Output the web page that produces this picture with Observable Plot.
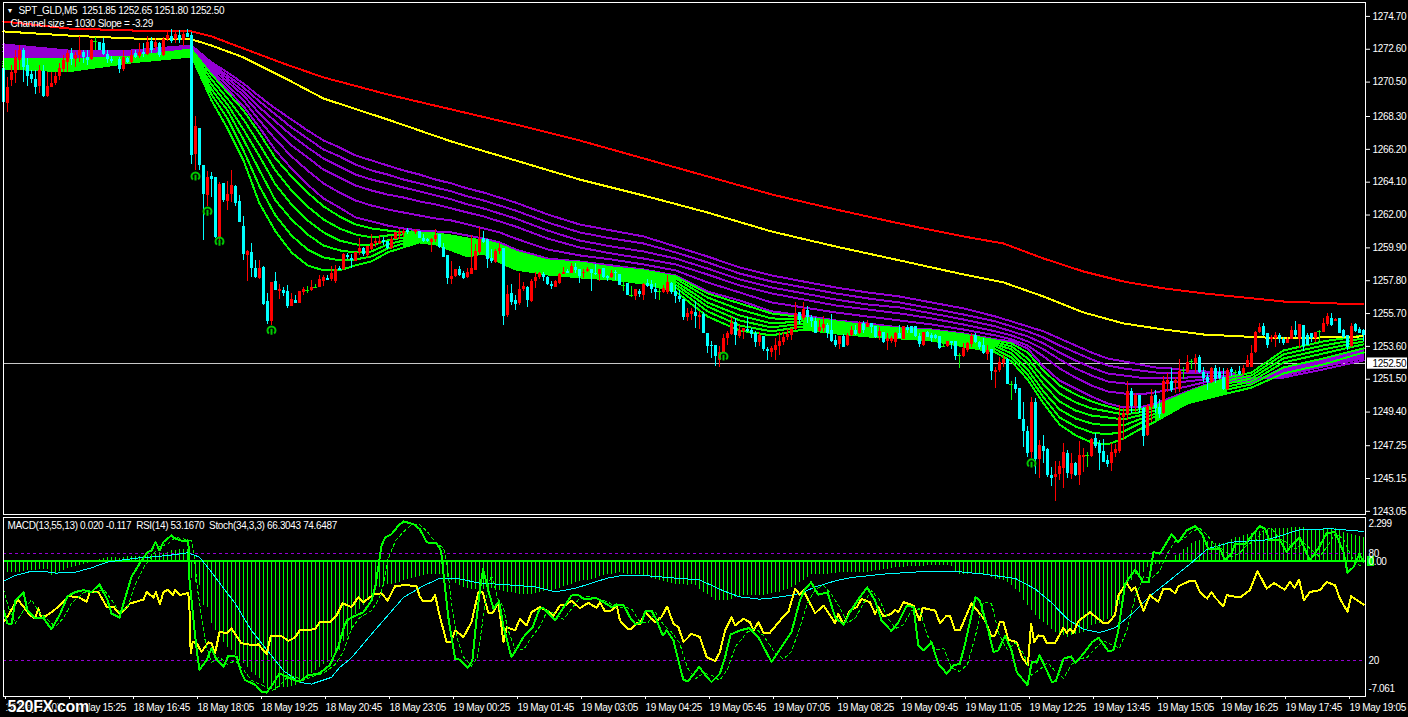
<!DOCTYPE html>
<html>
<head>
<meta charset="utf-8">
<script src="https://cdn.jsdelivr.net/npm/d3@7"></script>
<script src="https://cdn.jsdelivr.net/npm/@observablehq/plot@0.6"></script>
<style>
html,body{margin:0;padding:0;background:#000;width:1408px;height:717px;overflow:hidden}
svg{display:block}
svg text{white-space:pre;letter-spacing:-0.35px}
</style>
</head>
<body>
<div id="chart"></div>
<script>
// open, high, low, close for bars 0..340
const ohlc = [
[1271.35,1271.35,1268.58,1269.22],[1269.16,1270.82,1268.58,1270.14],[1270.61,1271.56,1270.22,1271.14],[1271.03,1272.52,1270.39,1272.05],[1271.88,1272.84,1271.24,1272.52],
[1272.52,1272.63,1270.50,1271.46],[1271.56,1271.99,1270.22,1270.86],[1270.99,1271.24,1270.39,1270.65],[1270.65,1271.24,1269.71,1270.14],[1270.22,1271.56,1269.75,1271.24],
[1271.18,1271.56,1269.54,1269.58],[1269.58,1271.14,1269.50,1270.22],[1270.14,1271.14,1270.14,1270.44],[1270.39,1271.14,1270.29,1270.86],[1270.86,1271.67,1270.61,1271.37],
[1271.33,1272.20,1271.14,1271.88],[1271.76,1272.52,1271.14,1272.31],[1272.31,1272.63,1271.56,1271.93],[1271.93,1272.42,1271.46,1272.20],[1272.20,1273.42,1271.78,1272.52],
[1272.42,1272.52,1271.67,1272.10],[1272.10,1272.52,1271.56,1271.88],[1271.93,1273.21,1271.88,1273.16],[1273.12,1273.38,1272.52,1273.12],[1273.01,1273.06,1272.52,1272.52],
[1272.99,1273.27,1272.20,1272.27],[1272.27,1272.52,1271.67,1271.93],[1271.93,1272.14,1271.67,1271.84],[1271.88,1272.10,1271.50,1271.88],[1271.93,1272.10,1271.07,1271.33],
[1271.29,1272.52,1271.20,1272.05],[1271.99,1272.10,1271.67,1271.76],[1271.76,1272.52,1271.71,1272.20],[1272.31,1272.52,1271.99,1272.10],[1272.14,1272.95,1271.99,1272.42],
[1272.42,1272.95,1272.10,1272.27],[1272.27,1273.42,1272.20,1273.06],[1273.12,1273.38,1272.35,1272.52],[1272.69,1273.27,1272.52,1273.06],[1272.95,1273.06,1272.10,1272.20],
[1272.20,1273.33,1272.14,1273.21],[1273.21,1273.80,1273.12,1273.48],[1273.44,1273.84,1272.95,1273.12],[1273.21,1273.80,1272.95,1273.55],[1273.48,1273.80,1272.95,1273.16],
[1273.16,1273.76,1272.78,1273.55],[1273.63,1273.84,1273.33,1273.38],[1273.48,1273.70,1265.23,1265.81],[1265.87,1268.30,1264.85,1267.66],[1267.53,1267.53,1264.85,1265.17],
[1265.17,1265.17,1260.38,1263.32],[1263.25,1264.81,1262.55,1264.43],[1264.47,1264.72,1263.15,1264.26],[1264.43,1264.43,1260.48,1260.59],[1260.48,1264.11,1260.38,1263.96],
[1264.04,1264.04,1262.83,1262.94],[1262.85,1264.15,1262.30,1263.32],[1263.32,1264.85,1262.83,1263.89],[1263.83,1263.89,1262.55,1262.72],[1262.87,1263.25,1261.53,1261.53],
[1261.27,1261.91,1259.10,1259.48],[1259.42,1259.74,1257.76,1259.67],[1259.63,1260.21,1258.03,1258.57],[1258.61,1259.10,1257.93,1257.99],[1257.93,1259.10,1257.86,1258.61],
[1258.67,1258.72,1256.22,1256.29],[1256.44,1256.97,1255.01,1255.20],[1255.20,1257.71,1254.94,1257.71],[1257.76,1258.31,1257.18,1257.18],[1257.10,1257.56,1256.61,1257.25],
[1257.18,1257.35,1256.80,1257.01],[1257.10,1257.50,1256.03,1256.16],[1256.16,1256.97,1256.16,1256.63],[1256.54,1256.86,1256.35,1256.35],[1256.35,1257.10,1256.35,1257.10],
[1257.05,1257.35,1256.84,1257.25],[1257.18,1257.44,1257.01,1257.18],[1257.18,1257.82,1257.10,1257.37],[1257.35,1257.56,1257.31,1257.35],[1257.39,1258.14,1257.35,1257.88],
[1257.78,1258.14,1257.46,1258.01],[1257.95,1258.14,1257.82,1257.82],[1257.88,1258.72,1257.76,1258.23],[1257.76,1258.78,1257.61,1258.52],[1258.61,1258.72,1258.46,1258.46],
[1258.52,1259.53,1258.46,1259.46],[1259.40,1259.53,1259.16,1259.29],[1259.25,1259.48,1258.57,1259.10],[1259.06,1259.61,1259.06,1259.61],[1259.61,1260.53,1259.42,1259.89],
[1259.89,1259.95,1259.35,1259.46],[1259.38,1259.99,1259.31,1259.99],[1259.80,1260.76,1259.74,1260.21],[1260.16,1260.48,1259.95,1260.31],[1260.16,1260.68,1260.10,1260.33],
[1260.38,1260.55,1260.06,1260.23],[1260.31,1260.31,1259.78,1259.84],[1259.84,1260.63,1259.78,1260.46],[1260.44,1260.91,1260.44,1260.91],[1260.76,1261.06,1260.42,1260.91],
[1260.80,1261.06,1260.59,1260.93],[1261.02,1261.12,1260.76,1260.89],[1260.89,1261.02,1260.59,1260.89],[1260.91,1261.10,1260.76,1261.02],[1260.95,1260.95,1260.48,1260.48],
[1260.53,1260.76,1260.27,1260.33],[1260.42,1260.48,1260.27,1260.33],[1260.25,1260.48,1259.61,1260.42],[1260.42,1261.06,1260.27,1260.68],[1260.76,1260.76,1259.84,1259.95],
[1259.95,1260.21,1259.27,1259.27],[1259.42,1259.42,1257.56,1257.95],[1257.86,1259.03,1257.56,1258.07],[1258.07,1258.52,1257.98,1258.52],[1258.52,1258.71,1258.07,1258.11],
[1258.28,1258.41,1257.88,1257.92],[1257.98,1258.56,1257.94,1258.35],[1258.20,1260.69,1258.20,1258.60],[1258.45,1260.12,1258.45,1259.69],[1259.63,1261.18,1259.46,1260.44],
[1260.48,1260.95,1260.20,1260.26],[1260.41,1260.41,1258.58,1259.14],[1259.24,1259.77,1258.92,1259.03],[1258.99,1259.77,1258.88,1259.67],[1259.65,1260.16,1259.48,1259.88],
[1259.84,1259.84,1254.94,1255.51],[1255.58,1257.49,1255.47,1256.92],[1256.96,1257.54,1256.22,1256.39],[1256.54,1256.86,1255.90,1256.28],[1256.32,1258.24,1256.22,1257.24],
[1257.22,1257.66,1257.13,1257.45],[1257.39,1257.45,1256.07,1256.54],[1256.47,1257.90,1256.43,1257.75],[1257.73,1258.35,1257.28,1257.98],[1257.98,1258.35,1257.86,1258.24],
[1258.18,1258.35,1257.77,1258.03],[1258.03,1258.07,1257.49,1257.56],[1257.56,1257.77,1257.26,1257.43],[1257.39,1257.81,1257.35,1257.75],[1257.60,1258.24,1257.56,1258.20],
[1258.20,1258.67,1258.18,1258.35],[1258.41,1258.50,1258.24,1258.24],[1258.28,1258.92,1258.24,1258.73],[1258.67,1258.88,1258.28,1258.45],[1258.50,1258.50,1257.64,1258.07],
[1258.24,1258.50,1257.96,1258.35],[1258.41,1258.67,1258.35,1258.54],[1258.50,1258.50,1257.13,1258.28],[1258.26,1258.84,1258.13,1258.18],[1258.18,1258.50,1257.77,1258.50],
[1258.60,1258.60,1257.94,1257.98],[1258.07,1258.13,1257.75,1257.96],[1257.98,1258.45,1257.92,1258.28],[1258.35,1258.45,1257.81,1258.24],[1258.20,1258.20,1257.49,1257.49],
[1257.49,1257.81,1257.13,1257.49],[1257.60,1257.60,1256.86,1256.86],[1256.88,1257.43,1256.75,1256.88],[1256.81,1257.22,1256.54,1257.22],[1257.13,1257.22,1256.73,1256.92],
[1256.86,1257.64,1256.54,1257.56],[1257.60,1257.86,1257.35,1257.45],[1257.56,1257.81,1257.00,1257.26],[1257.24,1257.60,1256.62,1257.05],[1257.09,1257.32,1256.54,1257.09],
[1257.07,1257.49,1256.96,1257.28],[1257.03,1258.13,1256.92,1257.69],[1257.60,1257.71,1256.92,1257.03],[1257.11,1257.49,1256.32,1256.79],[1256.79,1257.17,1256.43,1256.60],
[1256.60,1256.60,1255.26,1255.47],[1255.43,1256.05,1255.19,1255.68],[1255.64,1256.00,1255.26,1255.81],[1255.77,1256.47,1254.72,1255.51],[1255.47,1255.85,1254.66,1255.58],
[1255.65,1255.79,1254.45,1254.45],[1254.45,1254.45,1253.13,1253.60],[1253.66,1253.94,1252.81,1253.60],[1253.66,1253.66,1252.32,1252.96],[1252.71,1253.60,1252.28,1253.24],
[1253.19,1254.37,1253.13,1254.13],[1254.09,1254.58,1253.66,1254.45],[1254.37,1255.43,1254.30,1255.05],[1255.11,1255.37,1253.66,1254.30],[1254.24,1254.94,1254.09,1254.62],
[1254.58,1254.77,1254.03,1254.77],[1254.69,1255.43,1254.52,1254.56],[1254.62,1254.73,1254.09,1254.37],[1254.41,1254.58,1253.51,1253.83],[1253.83,1254.52,1253.60,1254.30],
[1254.26,1254.26,1253.28,1253.39],[1253.41,1253.51,1252.71,1253.28],[1253.22,1253.60,1252.92,1253.49],[1253.34,1254.13,1252.71,1253.66],[1253.60,1254.52,1253.02,1253.92],
[1253.88,1254.52,1253.66,1254.20],[1254.15,1254.67,1253.98,1254.35],[1254.30,1254.73,1253.98,1254.67],[1254.67,1256.39,1254.62,1255.73],[1255.75,1255.75,1254.98,1255.26],
[1255.41,1256.43,1255.26,1255.97],[1255.90,1256.16,1255.09,1255.43],[1255.47,1255.58,1254.79,1255.16],[1255.16,1255.43,1254.45,1254.45],[1254.58,1255.26,1254.52,1254.79],
[1254.73,1255.52,1254.52,1255.01],[1254.94,1255.05,1254.09,1254.41],[1254.62,1255.65,1253.88,1253.94],[1253.98,1254.30,1253.56,1253.66],[1253.73,1254.24,1253.39,1254.24],
[1254.26,1254.37,1253.56,1253.56],[1253.66,1254.41,1253.60,1254.30],[1254.30,1254.88,1254.24,1254.62],[1254.62,1254.94,1254.30,1254.37],[1254.45,1255.22,1254.37,1255.09],
[1255.09,1255.16,1254.41,1254.62],[1254.79,1255.26,1254.79,1255.09],[1255.05,1255.05,1254.41,1254.79],[1254.84,1254.88,1254.13,1254.20],[1254.24,1254.79,1253.98,1254.58],
[1254.52,1254.52,1253.77,1253.88],[1253.90,1254.45,1253.34,1254.13],[1253.90,1254.24,1253.81,1254.13],[1253.88,1254.52,1253.51,1254.41],[1254.41,1254.94,1254.13,1254.13],
[1254.05,1254.88,1254.03,1254.84],[1254.79,1254.94,1254.41,1254.62],[1254.84,1254.88,1254.41,1254.41],[1254.84,1254.84,1254.20,1254.24],[1254.26,1254.41,1253.51,1253.73],
[1253.66,1254.52,1253.62,1254.47],[1254.47,1254.58,1254.15,1254.20],[1254.30,1254.41,1253.88,1254.13],[1254.30,1254.37,1254.03,1254.09],[1254.24,1254.24,1253.39,1253.45],
[1253.58,1253.88,1253.54,1253.58],[1253.60,1253.94,1253.51,1253.92],[1253.92,1253.92,1253.43,1253.77],[1253.92,1253.92,1252.71,1252.98],[1253.02,1253.17,1252.19,1253.02],
[1252.98,1253.77,1252.92,1253.47],[1253.34,1253.88,1253.24,1253.77],[1253.71,1254.41,1253.56,1254.24],[1254.30,1254.41,1253.77,1253.83],[1253.88,1253.94,1253.39,1253.56],
[1253.66,1254.09,1253.09,1253.13],[1253.09,1253.66,1252.71,1253.34],[1253.40,1253.40,1251.42,1251.98],[1251.96,1252.23,1250.93,1252.06],[1252.06,1252.87,1251.96,1252.55],
[1252.49,1253.02,1252.23,1252.77],[1252.77,1252.81,1251.17,1251.17],[1251.15,1251.38,1250.14,1251.15],[1251.15,1251.59,1250.61,1250.83],[1250.89,1250.89,1248.93,1248.93],
[1248.93,1250.04,1247.16,1248.16],[1248.16,1248.48,1246.52,1246.73],[1246.84,1250.36,1246.41,1250.02],[1250.02,1250.25,1245.41,1246.35],[1246.35,1247.59,1245.14,1247.27],
[1247.20,1247.91,1246.09,1246.88],[1247.01,1247.05,1245.24,1245.35],[1245.35,1245.88,1244.65,1245.18],[1245.22,1246.27,1243.69,1245.41],[1245.41,1246.27,1245.03,1245.93],
[1245.78,1247.42,1244.54,1246.84],[1246.78,1246.95,1245.14,1245.46],[1245.41,1246.73,1245.07,1246.09],[1246.14,1246.20,1245.29,1245.35],[1245.35,1247.52,1244.71,1246.63],
[1246.52,1247.05,1245.56,1246.63],[1246.63,1246.84,1245.88,1246.63],[1246.56,1247.74,1246.52,1247.63],[1247.74,1248.01,1247.05,1247.20],[1247.42,1247.59,1245.67,1246.73],
[1246.88,1247.63,1246.16,1246.20],[1246.31,1246.63,1245.84,1246.05],[1246.10,1247.37,1245.63,1246.82],[1246.73,1247.33,1246.48,1247.01],[1246.88,1249.82,1246.78,1249.04],
[1249.04,1249.61,1247.59,1249.29],[1249.25,1251.38,1248.87,1250.72],[1250.72,1250.89,1249.29,1249.78],[1249.78,1250.57,1249.40,1250.46],[1250.46,1250.46,1249.29,1249.61],
[1249.61,1249.72,1247.20,1247.84],[1247.91,1249.89,1247.84,1249.76],[1249.72,1250.83,1248.76,1250.42],[1250.46,1250.78,1249.29,1249.61],[1249.72,1250.19,1248.97,1249.25],
[1249.33,1251.68,1249.25,1251.36],[1251.17,1251.85,1250.68,1251.42],[1251.36,1252.17,1250.68,1250.78],[1251.25,1251.59,1250.61,1251.42],[1250.83,1252.74,1250.68,1252.00],
[1252.06,1252.23,1251.47,1252.06],[1251.96,1253.02,1251.85,1252.55],[1252.66,1252.74,1252.10,1252.66],[1252.49,1253.08,1251.85,1252.85],[1252.92,1253.02,1251.85,1251.90],
[1251.90,1252.24,1251.32,1251.53],[1251.60,1251.85,1250.79,1251.28],[1251.26,1252.28,1251.21,1252.17],[1252.17,1252.39,1251.21,1251.47],[1251.96,1252.28,1251.47,1251.53],
[1251.60,1252.17,1250.79,1250.83],[1250.83,1252.17,1250.79,1252.07],[1252.11,1252.28,1251.68,1251.90],[1251.96,1252.07,1251.38,1251.96],[1252.00,1252.32,1251.75,1251.81],
[1251.85,1252.39,1251.75,1252.17],[1252.24,1253.02,1252.24,1252.71],[1252.28,1253.66,1252.24,1253.13],[1253.19,1254.56,1253.13,1254.52],[1254.52,1255.09,1254.41,1254.79],
[1254.90,1255.05,1254.24,1254.30],[1254.41,1254.45,1253.45,1253.66],[1254.05,1254.30,1253.88,1254.20],[1254.09,1254.52,1253.56,1254.30],[1254.30,1254.41,1253.77,1254.03],
[1254.05,1254.20,1253.66,1253.77],[1253.81,1254.20,1253.77,1254.03],[1254.03,1254.84,1254.03,1254.62],[1254.62,1255.22,1254.20,1254.30],[1254.07,1255.01,1253.45,1255.01],
[1254.94,1254.94,1253.28,1253.60],[1254.30,1254.41,1253.66,1253.66],[1254.41,1254.41,1253.88,1254.09],[1254.13,1254.52,1253.88,1254.47],[1254.56,1254.62,1253.94,1254.56],
[1254.52,1255.37,1254.52,1255.05],[1254.99,1255.69,1254.88,1255.48],[1255.37,1255.69,1254.84,1254.94],[1255.20,1255.37,1255.16,1255.33],[1255.37,1255.37,1254.41,1254.41],
[1254.62,1254.67,1254.09,1254.20],[1254.30,1254.30,1253.34,1253.56],[1253.60,1255.09,1253.56,1254.88],[1254.99,1255.05,1254.52,1254.56],[1254.67,1254.79,1254.41,1254.45],
[1254.62,1254.67,1253.94,1254.30]
];

// slow averages read at these bars
const trendBars = [0,16,32,47,52,60,70,80,96,112,128,144,160,176,192,208,224,240,250,260,270,280,290,300,320,340];
const redAverage = [1274.38,1273.93,1273.80,1273.74,1273.42,1272.65,1271.69,1270.80,1269.71,1268.75,1267.79,1266.77,1265.62,1264.47,1263.32,1262.36,1261.46,1260.63,1260.18,1259.22,1258.39,1257.75,1257.31,1256.99,1256.47,1256.28];
const yellowAverage = [1273.74,1273.48,1273.29,1273.23,1272.84,1272.08,1270.80,1269.45,1268.11,1266.70,1265.49,1264.27,1263.25,1262.16,1260.95,1259.99,1259.10,1258.20,1257.69,1256.79,1255.77,1255.07,1254.68,1254.36,1254.11,1254.24];

// ribbon: bar, six purple averages, six green averages
const ribbonRows = [
[0,1272.91,1272.71,1272.59,1272.46,1272.27,1272.08,1271.95,1271.82,1271.69,1271.56,1271.50,1271.37],
[16,1272.52,1272.46,1272.40,1272.27,1272.20,1272.08,1271.95,1271.76,1271.63,1271.44,1271.31,1271.18],
[32,1272.52,1272.46,1272.40,1272.33,1272.27,1272.20,1272.14,1272.08,1272.01,1271.95,1271.88,1271.76],
[47,1272.84,1272.78,1272.71,1272.71,1272.65,1272.65,1272.59,1272.52,1272.40,1272.33,1272.27,1272.14],
[52,1271.76,1271.63,1271.50,1271.37,1271.24,1271.12,1270.99,1270.67,1270.35,1270.03,1269.71,1269.33],
[56,1271.12,1270.92,1270.73,1270.54,1270.28,1270.03,1269.84,1269.45,1269.07,1268.69,1268.18,1267.54],
[60,1270.41,1270.16,1269.90,1269.65,1269.33,1268.94,1268.69,1268.11,1267.47,1266.83,1266.13,1265.49],
[64,1269.58,1269.26,1268.88,1268.49,1268.05,1267.60,1267.22,1266.51,1265.75,1264.85,1263.83,1262.74],
[68,1268.81,1268.43,1267.98,1267.47,1266.83,1266.13,1265.62,1264.85,1263.95,1262.93,1261.97,1260.95],
[72,1268.11,1267.60,1267.09,1266.45,1265.75,1264.98,1264.47,1263.57,1262.68,1261.72,1260.69,1259.61],
[76,1267.41,1266.90,1266.32,1265.68,1264.85,1263.95,1263.44,1262.55,1261.65,1260.76,1259.80,1258.78],
[80,1266.77,1266.19,1265.62,1264.91,1264.02,1263.06,1262.55,1261.72,1260.89,1260.05,1259.29,1258.46],
[84,1266.32,1265.75,1265.11,1264.40,1263.44,1262.48,1261.91,1261.14,1260.37,1259.74,1259.10,1258.46],
[88,1265.81,1265.23,1264.59,1263.89,1262.93,1261.85,1261.40,1260.76,1260.12,1259.61,1259.16,1258.78],
[92,1265.49,1264.85,1264.27,1263.57,1262.61,1261.59,1261.14,1260.57,1260.05,1259.67,1259.35,1259.03],
[96,1265.17,1264.59,1264.02,1263.31,1262.36,1261.33,1261.01,1260.69,1260.37,1260.12,1259.86,1259.61],
[100,1264.85,1264.27,1263.76,1263.12,1262.16,1261.14,1260.89,1260.76,1260.57,1260.37,1260.18,1259.93],
[104,1264.59,1264.02,1263.51,1262.87,1261.97,1261.01,1260.89,1260.76,1260.63,1260.50,1260.37,1260.25],
[108,1264.27,1263.76,1263.25,1262.68,1261.78,1260.95,1260.82,1260.69,1260.57,1260.44,1260.31,1260.12],
[112,1264.02,1263.51,1263.00,1262.42,1261.65,1260.89,1260.69,1260.50,1260.31,1260.12,1259.93,1259.74],
[116,1263.70,1263.19,1262.68,1262.16,1261.40,1260.69,1260.50,1260.31,1260.05,1259.86,1259.61,1259.35],
[120,1263.44,1262.93,1262.42,1261.91,1261.14,1260.50,1260.37,1260.18,1259.99,1259.80,1259.67,1259.54],
[124,1263.12,1262.61,1262.10,1261.59,1260.89,1260.25,1260.12,1259.93,1259.74,1259.48,1259.22,1258.97],
[128,1262.80,1262.29,1261.78,1261.27,1260.50,1259.80,1259.67,1259.48,1259.29,1259.03,1258.78,1258.52],
[136,1262.04,1261.53,1261.01,1260.50,1259.80,1259.22,1259.10,1258.97,1258.78,1258.58,1258.39,1258.20],
[144,1261.40,1260.89,1260.37,1259.93,1259.42,1259.03,1258.97,1258.78,1258.58,1258.39,1258.20,1258.01],
[152,1261.01,1260.50,1259.99,1259.54,1259.16,1258.78,1258.65,1258.52,1258.39,1258.26,1258.07,1257.88],
[160,1260.63,1260.18,1259.67,1259.22,1258.84,1258.52,1258.46,1258.33,1258.20,1258.01,1257.82,1257.62],
[168,1259.99,1259.61,1259.22,1258.84,1258.46,1258.14,1258.07,1257.94,1257.75,1257.56,1257.37,1257.11],
[176,1259.35,1258.97,1258.58,1258.20,1257.69,1257.11,1256.99,1256.73,1256.41,1256.15,1255.84,1255.51],
[184,1258.65,1258.26,1257.88,1257.50,1257.05,1256.54,1256.35,1255.96,1255.58,1255.26,1254.94,1254.62],
[192,1258.14,1257.75,1257.37,1256.99,1256.41,1255.84,1255.71,1255.39,1255.07,1254.81,1254.56,1254.30],
[200,1257.75,1257.37,1256.99,1256.60,1256.09,1255.58,1255.45,1255.32,1255.20,1255.07,1254.88,1254.68],
[208,1257.37,1256.99,1256.60,1256.22,1255.77,1255.26,1255.20,1255.07,1254.94,1254.81,1254.62,1254.43],
[216,1257.05,1256.67,1256.28,1255.96,1255.51,1255.07,1254.94,1254.81,1254.68,1254.56,1254.43,1254.24],
[224,1256.79,1256.41,1256.09,1255.71,1255.26,1254.81,1254.75,1254.62,1254.49,1254.36,1254.24,1254.11],
[232,1256.41,1256.03,1255.71,1255.39,1255.00,1254.68,1254.62,1254.49,1254.36,1254.24,1254.11,1253.98],
[240,1256.03,1255.64,1255.32,1255.00,1254.68,1254.43,1254.36,1254.24,1254.11,1253.98,1253.79,1253.60],
[248,1255.51,1255.20,1254.88,1254.56,1254.30,1254.05,1253.98,1253.85,1253.73,1253.60,1253.41,1253.21],
[252,1255.20,1254.88,1254.56,1254.30,1254.05,1253.92,1253.79,1253.60,1253.41,1253.15,1252.89,1252.64],
[256,1254.88,1254.56,1254.24,1253.92,1253.66,1253.47,1253.21,1252.83,1252.51,1252.13,1251.81,1251.49],
[260,1254.56,1254.17,1253.79,1253.41,1252.96,1252.32,1252.06,1251.61,1251.17,1250.72,1250.34,1249.95],
[264,1254.11,1253.66,1253.21,1252.77,1252.19,1251.42,1251.10,1250.59,1250.08,1249.57,1249.06,1248.61],
[268,1253.66,1253.21,1252.70,1252.19,1251.61,1250.91,1250.53,1250.02,1249.50,1248.99,1248.48,1247.91],
[272,1253.21,1252.77,1252.25,1251.74,1251.10,1250.40,1250.08,1249.63,1249.18,1248.67,1248.10,1247.46],
[276,1252.83,1252.38,1251.87,1251.36,1250.72,1249.95,1249.76,1249.44,1249.06,1248.55,1247.97,1247.33],
[280,1252.64,1252.19,1251.74,1251.23,1250.59,1249.70,1249.50,1249.25,1248.93,1248.55,1248.16,1247.71],
[284,1252.45,1252.06,1251.61,1251.17,1250.53,1249.70,1249.57,1249.38,1249.18,1248.93,1248.67,1248.29],
[288,1252.25,1251.93,1251.55,1251.17,1250.66,1249.95,1249.82,1249.70,1249.50,1249.31,1249.12,1248.80],
[292,1252.19,1251.93,1251.61,1251.29,1250.85,1250.34,1250.21,1250.08,1249.95,1249.76,1249.57,1249.38],
[296,1252.06,1251.87,1251.61,1251.36,1251.04,1250.72,1250.66,1250.53,1250.40,1250.27,1250.14,1249.95],
[300,1252.00,1251.87,1251.68,1251.49,1251.29,1251.10,1251.04,1250.91,1250.78,1250.66,1250.46,1250.21],
[306,1251.93,1251.87,1251.74,1251.61,1251.49,1251.36,1251.61,1251.42,1251.23,1251.04,1250.85,1250.59],
[312,1251.55,1251.49,1251.42,1251.36,1251.29,1251.23,1251.93,1251.74,1251.55,1251.36,1251.17,1250.97],
[320,1251.61,1251.74,1251.87,1252.00,1252.13,1252.25,1253.34,1253.09,1252.83,1252.57,1252.25,1251.87],
[330,1252.13,1252.32,1252.45,1252.57,1252.70,1252.83,1253.92,1253.66,1253.41,1253.15,1252.83,1252.45],
[340,1252.70,1252.83,1252.96,1253.09,1253.21,1253.34,1254.30,1254.11,1253.92,1253.73,1253.47,1253.21]
];
// stretches of bars where the ribbon lines run together into a solid band
const solidPurple = [[0,47]];
const solidGreen = [[0,47],[100,168],[200,248],[288,306]];
const arrowBars = [48,51,54,67,180,257];
const arrowPrices = [1264.47,1262.23,1260.31,1254.62,1252.96,1246.12];
const lastPrice = 1252.50;
const priceTicks = [1274.70,1272.60,1270.50,1268.30,1266.20,1264.10,1262.00,1259.90,1257.80,1255.70,1253.60,1251.50,1249.40,1247.25,1245.15,1243.05];

// MACD histogram for bars 0..340
const macdHist = [
-0.59,-0.59,-0.59,-0.56,-0.56,-0.51,-0.47,-0.47,-0.47,-0.44,-0.44,-0.44,-0.73,-0.65,-0.55,-0.45,-0.35,-0.30,-0.25,-0.20,-0.15,-0.10,-0.02,
0.05,0.10,0.18,0.20,0.22,0.20,0.18,0.22,0.25,0.27,0.25,0.25,0.22,0.30,0.35,0.40,0.45,0.40,0.45,0.55,0.58,0.62,0.60,0.60,
-0.91,-1.08,-1.26,-2.30,-2.39,-3.26,-3.61,-3.87,-4.22,-4.49,-4.66,-4.92,-5.18,-5.36,-5.53,-5.79,-5.97,-6.14,-6.40,-6.67,-6.67,-6.75,-6.58,-6.58,-6.58,-6.54,-6.49,-6.37,-6.23,-6.14,-5.88,-5.71,-5.53,-5.39,-5.27,-5.01,-4.83,-4.66,
-4.20,-3.90,-3.60,-2.76,-2.50,-2.32,-2.06,-1.80,-1.54,-1.36,-1.27,-1.19,-1.19,-1.15,-1.10,-1.01,-0.92,-0.87,-0.84,-0.80,-0.75,-0.70,-0.66,-0.66,-0.66,-0.75,-0.84,-1.01,-1.15,-1.27,-1.36,-1.41,-1.45,-1.45,-1.45,-1.45,-1.41,-1.40,-1.45,-1.54,-1.57,-1.62,-1.62,-1.68,-1.71,-1.75,-1.75,-1.71,-1.68,-1.62,-1.57,-1.54,-1.50,-1.45,-1.40,-1.33,-1.27,-1.19,-1.12,-1.05,-1.01,-0.98,-0.94,-0.87,-0.80,-0.75,-0.70,-0.66,-0.63,-0.59,-0.63,-0.66,-0.66,-0.66,-0.70,-0.75,-0.80,-0.87,-0.92,-0.98,-1.05,-1.10,-1.15,-1.19,-1.19,-1.22,-1.27,-1.19,-1.27,-1.45,-1.62,-1.71,-1.88,-2.06,-2.06,-2.06,-2.06,-1.97,-1.88,-1.85,-1.80,-1.80,-1.80,-1.80,
-1.80,-1.80,-1.71,-1.68,-1.62,-1.62,-1.54,-1.45,-1.36,-1.27,-1.10,-1.01,-0.84,-0.70,-0.70,-0.70,-0.66,-0.66,-0.63,-0.63,-0.58,-0.58,-0.58,-0.58,-0.58,-0.58,-0.58,-0.58,-0.52,-0.49,-0.45,-0.40,-0.40,-0.35,-0.31,-0.31,-0.31,-0.28,-0.28,-0.26,-0.26,-0.24,-0.23,-0.23,-0.23,-0.23,-0.23,-0.23,-0.28,-0.58,-0.66,-0.70,-0.70,-0.63,-0.63,-0.63,-0.66,-0.70,-0.84,-0.92,-0.92,-1.01,-1.10,-1.27,-1.45,-1.62,-2.06,-2.32,-2.55,-2.84,-3.02,-3.19,-3.37,-3.54,-3.72,-3.84,-3.89,-3.95,-3.89,-3.84,-3.77,-3.72,-3.54,-3.37,-3.31,-3.25,-3.14,-3.02,-2.90,-2.67,-2.23,-1.62,-1.27,-1.01,-0.70,-0.66,-0.58,-0.31,-0.23,-0.17,-0.14,
-0.12,0.02,0.05,0.31,0.40,0.61,0.75,0.92,1.06,1.10,1.10,1.06,1.01,0.96,0.96,0.92,1.01,1.13,1.24,1.27,1.36,1.41,1.45,1.54,1.59,1.62,1.66,1.71,1.71,1.71,1.71,1.71,1.76,1.76,1.80,1.76,1.66,1.62,1.62,1.62,1.66,1.66,1.71,1.71,1.62,1.54,1.45,1.41,1.36,1.31,1.27
];
const macdSignal = [[0,-1.03],[3,-0.73],[7,-0.51],[10,-0.51],[13,-0.61],[18,-0.56],[22,-0.33],[26,-0.03],[33,0.17],[41,0.31],[46,0.45],[49,0.23],[52,-0.56],[58,-2.22],[62,-3.61],[66,-4.66],[70,-5.71],[74,-6.32],[77,-6.41],[82,-6.06],[84,-5.55],[87,-5.04],[92,-3.80],[100,-1.88],[105,-1.27],[109,-0.89],[113,-0.87],[119,-1.13],[126,-1.22],[133,-1.33],[138,-1.59],[143,-1.40],[151,-0.87],[155,-0.72],[161,-0.75],[168,-0.87],[174,-0.96],[180,-1.54],[184,-1.85],[189,-1.97],[191,-1.94],[195,-1.83],[199,-1.68],[203,-1.33],[208,-1.01],[212,-0.84],[220,-0.66],[229,-0.54],[238,-0.52],[245,-0.66],[253,-0.89],[258,-1.45],[262,-2.15],[266,-3.02],[270,-3.54],[274,-3.72],[278,-3.46],[283,-2.58],[287,-1.74],[291,-1.08],[297,-0.07],[301,0.66],[307,1.01],[316,1.13],[324,1.66],[332,1.71],[340,1.57]];
const stochMain = [[0,48.2],[1,40.8],[2,40.4],[3,53.8],[5,58.1],[6,48.2],[8,43.6],[10,43.6],[12,37.6],[14,45.4],[16,56.0],[18,58.4],[20,59.4],[22,58.4],[24,62.7],[26,53.8],[27,46.4],[29,44.1],[30,51.9],[32,66.8],[34,74.2],[36,80.7],[37,81.6],[38,86.3],[39,81.6],[40,86.3],[42,90.0],[43,88.1],[45,86.8],[46,87.2],[46.3,83.5],[46.5,64.9],[47.5,42.6],[48.4,24.1],[49,14.8],[50.8,20.4],[52,26.9],[53.3,20.4],[55,16.7],[56.2,22.8],[58.3,22.2],[59.5,13.0],[60.4,9.2],[63,6.5],[64.5,2.7],[65.8,2.2],[67.5,7.4],[69,13.0],[71.6,10.2],[74,8.3],[76,11.7],[79,13.0],[81.6,17.6],[83.7,27.8],[85,38.0],[85.8,42.5],[87.5,44.7],[90,47.1],[92,53.6],[93,62.0],[93.7,72.2],[94.5,84.2],[95.4,88.9],[97,90.7],[98.7,95.4],[100,97.8],[102.5,96.3],[104.1,93.5],[105.8,86.1],[108.3,85.5],[109.4,81.4],[110,68.4],[111.2,44.3],[112.9,21.1],[114.1,20.6],[116,15.9],[117.2,19.8],[118.3,44.3],[119.3,62.9],[119.9,71.2],[121.2,59.2],[122.5,49.0],[123.9,53.2],[125,38.8],[127,22.0],[128.3,26.7],[130,33.2],[132.3,38.8],[134,49.0],[135,49.5],[136.2,46.5],[137.9,42.5],[139.5,48.0],[142,56.4],[143.7,56.8],[145,54.5],[148.3,54.9],[150,52.7],[152,49.9],[153.3,51.4],[155,51.2],[156.6,44.3],[157.9,40.6],[159.5,41.0],[160.4,47.5],[162,48.0],[163.3,42.5],[164.8,34.1],[165.8,36.9],[167.5,31.3],[168.7,20.2],[170,9.1],[171.2,8.7],[173.9,16.5],[175.8,10.9],[177,8.1],[179.1,12.8],[180.4,22.0],[181.8,34.7],[184.1,36.9],[186.4,38.2],[188.7,33.2],[192,19.3],[197,36.0],[199.1,53.6],[200.4,60.1],[201.9,63.8],[203.7,56.9],[206,58.2],[207.9,44.3],[210,40.1],[211.6,47.1],[214.1,55.5],[215.9,61.0],[217.9,53.6],[219.5,42.5],[222,36.5],[223.7,41.5],[225.8,50.8],[227.5,49.9],[228.7,28.5],[230,25.8],[232,30.4],[233.7,18.3],[235.8,12.8],[237.5,17.4],[239.1,18.3],[240.4,29.5],[243,55.5],[244.1,53.6],[246.2,36.9],[247.5,24.8],[248.7,25.8],[250.4,34.1],[252,25.8],[253.3,13.7],[256,6.3],[257.1,19.3],[258.3,18.9],[259,23.0],[260.8,14.6],[262.1,8.1],[263.1,8.7],[265,21.1],[266.9,22.4],[268,18.9],[270,23.9],[272.2,30.4],[273.8,32.8],[276.2,25.4],[277.5,25.8],[278.7,36.9],[280.4,62.9],[282.9,70.9],[285,63.8],[286.3,63.8],[287.5,80.7],[289.1,79.8],[292,90.5],[293.7,86.3],[295.8,92.8],[297.9,95.2],[299.6,90.9],[301.2,82.6],[304.1,82.6],[305.4,76.1],[307,79.8],[307.9,85.3],[310.4,85.3],[312.5,90.9],[314,95.2],[315.4,93.7],[316.5,87.2],[319.1,87.2],[320.8,80.7],[322,84.4],[324,89.0],[326.6,76.1],[328.7,82.6],[330.8,91.3],[332.9,91.8],[335,80.7],[336,69.2],[337.5,72.3],[339,79.8],[340,75.1]];
const stochSignal = [[0,60],[1.5,48],[3,41],[5,48],[7,54],[9,47],[11,43],[13,39],[15,44],[17,52],[20,58],[23,58],[25,60],[27,54],[29,47],[31,50],[33,63],[35,72],[37,78],[39,84],[41,85],[43,89],[45,88],[47,87],[47.8,76],[48.5,60],[49.5,45],[50.5,30],[52,19],[54,22],[56,18],[58,20],[60,15],[62,9],[65,6],[67,3],[69,6],[71,11],[73,11],[75,9],[77,11],[80,13],[83,18],[85,25],[87,38],[89,44],[92,48],[94,55],[95,63],[96,76],[98,87],[100,92],[102,96],[104,96],[106,92],[108,86],[110,83],[111,72],[112,52],[113.5,32],[115,22],[117,17],[118.5,22],[120,45],[121,60],[122,68],[123.5,55],[125,50],[126,38],[128,26],[130,26],[132,33],[134,39],[136,48],[138,46],[140,43],[142,49],[144,55],[146,56],[148,55],[151,53],[153,50],[155,50],[157,49],[159,42],[161,41],[163,47],[165,40],[167,36],[169,30],[171,16],[173,10],[175,13],[177,12],[179,9],[181,15],[183,28],[186,36],[188,38],[190,34],[193,24],[195,21],[197,25],[199,38],[201,52],[203,60],[205,62],[207,57],[209,50],[211,41],[213,44],[215,52],[217,59],[219,54],[221,44],[223,38],[225,40],[227,48],[229,49],[231,34],[233,26],[235,27],[237,16],[239,14],[241,18],[243,34],[245,53],[247,52],[249,34],[251,26],[253,30],[255,24],[257,12],[259,15],[261,19],[263,14],[265,10],[267,18],[269,21],[271,22],[273,27],[275,31],[277,29],[279,27],[281,38],[283,56],[285,67],[287,66],[289,70],[291,80],[293,87],[295,88],[297,92],[299,94],[301,90],[303,84],[305,82],[307,78],[309,80],[311,85],[313,87],[315,93],[317,94],[319,88],[321,86],[323,82],[325,86],[327,82],[329,78],[331,84],[333,91],[335,88],[337,78],[339,73],[340,74]];
const rsiLine = [[0,41.7],[1.2,45.4],[2.9,51.9],[3.7,53.8],[5,50.1],[6.6,45.4],[7.9,43.6],[8.7,49.2],[9.5,43.6],[11.6,46.4],[13.7,50.1],[16.2,56.0],[18.7,55.6],[20.8,52.9],[21.6,58.4],[23.7,58.4],[25.8,50.1],[27.5,50.1],[29.1,46.0],[31.6,51.9],[35,54.2],[35.8,58.4],[37.5,55.3],[38.1,58.4],[39.1,51.6],[40,58.4],[41.2,59.7],[42.3,56.6],[42.9,59.4],[44.1,56.6],[46.2,57.9],[46.5,48.2],[46.8,24.1],[47.3,30.6],[48.3,29.7],[49.5,25.0],[51.2,30.2],[52,29.7],[52.9,24.1],[54,36.2],[55.8,35.2],[57,38.0],[59.5,29.7],[62.4,28.7],[63.7,29.1],[65.8,23.7],[66.8,33.7],[69.5,33.7],[71.2,31.1],[72.9,33.0],[74.1,37.1],[77.9,37.5],[79.1,41.7],[81.6,41.7],[83.3,45.4],[84.8,52.1],[87,49.9],[88.7,55.5],[90,52.7],[92.5,56.9],[94.5,57.7],[96,53.6],[97.9,61.6],[100.4,62.3],[103.3,61.6],[104.1,55.5],[105,53.2],[107,53.2],[107.9,56.8],[108.9,46.2],[110.8,30.4],[111.9,30.4],[112.9,36.9],[115,33.2],[117,41.5],[118.7,58.2],[119.8,58.2],[121.2,46.7],[122.3,46.7],[123.7,52.7],[125,30.4],[125.8,38.8],[127.9,36.9],[129.1,43.4],[130.8,39.7],[132,47.1],[134.1,49.9],[135.8,48.0],[137.5,45.2],[139.1,50.8],[140.8,51.4],[142,53.6],[144.1,49.3],[146.2,52.3],[148.3,49.5],[149.1,52.7],[150.4,47.5],[151.6,47.5],[153.3,50.8],[154.1,42.5],[156,37.8],[157,37.8],[158.3,41.0],[159.1,40.6],[160.4,47.1],[162.9,41.5],[164.5,44.3],[165.9,50.3],[167.5,40.6],[168.7,38.8],[170,30.4],[172,35.0],[174.1,33.2],[175.8,22.0],[177.9,19.8],[179.1,24.8],[180.4,36.9],[182,44.3],[182.9,39.7],[185,43.4],[186.6,41.5],[187.5,36.9],[188.7,41.5],[190,35.6],[191.6,35.6],[195,44.7],[196.2,47.1],[197.9,60.1],[199.1,56.9],[200,59.2],[202.9,46.5],[205,50.8],[207.9,41.0],[208.7,46.2],[210,40.2],[211.6,48.0],[213.3,49.9],[214.5,54.5],[216.6,52.7],[217.9,46.2],[218.7,49.9],[220,44.7],[222,46.2],[222.9,48.4],[223.7,47.1],[225,52.7],[227.5,50.8],[229,42.5],[229.8,49.5],[232.9,48.0],[234.1,41.0],[235.8,45.2],[236.6,45.2],[237.9,36.9],[239.1,36.9],[242,52.1],[245.4,42.5],[247,33.6],[247.9,34.1],[249.1,41.5],[250,41.5],[251.2,31.7],[253.3,30.4],[254.6,22.0],[256.1,17.4],[256.9,40.6],[257.7,30.4],[258.7,34.1],[260,33.6],[260.8,30.0],[262.9,30.0],[265,38.4],[265.8,35.4],[266.6,37.8],[267.5,35.4],[268.7,42.1],[271.6,47.1],[275,41.0],[276.2,41.0],[277.9,45.6],[278.7,56.4],[280.8,63.4],[282,59.2],[282.9,61.0],[285,47.7],[286.6,56.6],[288.7,52.9],[290,60.3],[291.6,60.3],[292.9,57.5],[293.7,61.6],[296.6,64.6],[297.9,64.6],[299.1,58.4],[300.9,54.7],[302,58.4],[302.9,55.3],[305,50.4],[305.8,56.6],[309.1,55.3],[311.6,59.4],[313.5,70.1],[315.8,60.3],[317.6,63.4],[320.3,59.7],[321.6,64.0],[322.8,60.8],[323.9,65.3],[325.1,53.8],[326.6,58.4],[329.1,59.4],[330.8,64.0],[332.9,62.1],[334.1,54.7],[336,47.3],[336.9,56.0],[340,51.4]];

const tickBars = [0,16,32,48,64,80,96,112,128,144,160,176,192,208,224,240,256,272,288,304,320,336];
const tickLabels = ["18 May 14:05","18 May 15:25","18 May 16:45","18 May 18:05","18 May 19:25","18 May 20:45","18 May 23:05","19 May 00:25","19 May 01:45","19 May 03:05","19 May 04:25","19 May 05:45","19 May 07:05","19 May 08:25","19 May 09:45","19 May 11:05","19 May 12:25","19 May 13:45","19 May 15:05","19 May 16:25","19 May 17:45","19 May 19:05"];
const macdRange = [-7.061, 2.299];
const oscLevels = [80, 20];

const PURPLE = "#9400d3", LIME = "#00ff00", CYAN = "#00ffff", RED = "#ff0000", YELLOW = "#ffff00";
const FONT = "'Liberation Sans', Arial, sans-serif";
const FS = 10;
const CRISP = "crispEdges";
const xDomain = [0, 340.5];
const bars = ohlc.map((r, i) => ({i, o: r[0], h: r[1], l: r[2], c: r[3]}));
const colorOf = d => d.c > d.o ? RED : d.c < d.o ? CYAN : LIME;
const ribbonLines = d3.range(1, 13).map(col => Plot.line(ribbonRows, {
  x: r => r[0], y: r => r[col], stroke: col <= 6 ? PURPLE : LIME, strokeWidth: 2, shapeRendering: CRISP
}));
const bandArea = (spans, c1, c2, fill) => spans.map(([a, b]) => Plot.areaY(
  ribbonRows.filter(r => r[0] >= a && r[0] <= b),
  {x: r => r[0], y1: r => r[c1], y2: r => r[c2], fill, shapeRendering: CRISP}
));
const arrowSymbol = {draw(ctx, size) {
  const r = Math.sqrt(size / Math.PI);
  ctx.moveTo(-r * 0.67, r * 0.74);
  ctx.arc(0, 0, r, 2.3, 0.84);
  ctx.moveTo(0, -r * 0.4);
  ctx.lineTo(0, r * 1.05);
}};

const main = Plot.plot({
  width: 1408, height: 515,
  marginLeft: 3, marginRight: 43, marginTop: 2, marginBottom: 1,
  style: {background: "#000", color: "#fff", fontFamily: FONT, fontSize: FS + "px", overflow: "visible"},
  x: {domain: xDomain, axis: null},
  y: {domain: [1242.85, 1275.59], axis: null},
  marks: [
    Plot.ruleY([lastPrice], {stroke: "#c8c8c8", strokeWidth: 1, shapeRendering: CRISP}),
    ...bandArea(solidPurple, 1, 6, PURPLE),
    ...ribbonLines,
    ...bandArea(solidGreen, 7, 12, LIME),
    Plot.line(trendBars, {x: d => d, y: (d, i) => yellowAverage[i], stroke: YELLOW, strokeWidth: 2, shapeRendering: CRISP}),
    Plot.line(trendBars, {x: d => d, y: (d, i) => redAverage[i], stroke: RED, strokeWidth: 2, shapeRendering: CRISP}),
    Plot.ruleX(bars, {x: "i", y1: "l", y2: "h", stroke: colorOf, strokeWidth: 1, shapeRendering: CRISP}),
    Plot.ruleX(bars.filter(d => d.o !== d.c), {x: "i", y1: "o", y2: "c", stroke: colorOf, strokeWidth: 3, shapeRendering: CRISP}),
    Plot.ruleY(bars.filter(d => d.o === d.c), {y: "c", x1: d => d.i - 0.4, x2: d => d.i + 0.4, stroke: LIME, strokeWidth: 1, shapeRendering: CRISP}),
    Plot.dot(arrowBars, {x: d => d, y: (d, i) => arrowPrices[i], r: 4, symbol: arrowSymbol, stroke: "#00c800", strokeWidth: 2, fill: "none"}),
    Plot.frame({stroke: "#fff", strokeWidth: 1, shapeRendering: CRISP}),
    Plot.axisY({anchor: "right", ticks: priceTicks, tickFormat: d3.format(".2f"), tickSize: 4, tickPadding: 3, stroke: "#fff", fill: "#fff", label: null, fontSize: FS}),
    Plot.rect([lastPrice], {x1: () => 341, x2: () => 351, y1: d => d - 0.36, y2: d => d + 0.36, fill: "#fff"}),
    Plot.text([lastPrice], {frameAnchor: "right", y: d => d, text: d => d.toFixed(2), dx: 7, textAnchor: "start", fill: "#000", fontSize: FS}),
    Plot.text(["▼"], {frameAnchor: "top-left", dx: 3, dy: 8.5, lineAnchor: "middle", textAnchor: "start", fill: "#fff", fontSize: 7}),
    Plot.text(["SPT_GLD,M5  1251.85 1252.65 1251.80 1252.50"], {frameAnchor: "top-left", dx: 15, dy: 8.5, lineAnchor: "middle", textAnchor: "start", fill: "#fff", fontSize: FS}),
    Plot.text(["Channel size = 1030 Slope = -3.29"], {frameAnchor: "top-left", dx: 7, dy: 21.5, lineAnchor: "middle", textAnchor: "start", fill: "#fff", fontSize: FS})
  ]
});

const macdToOsc = v => (v - macdRange[0]) / (macdRange[1] - macdRange[0]) * 100;
const lower = Plot.plot({
  width: 1408, height: 202,
  marginLeft: 3, marginRight: 43, marginTop: 2, marginBottom: 21,
  style: {background: "#000", color: "#fff", fontFamily: FONT, fontSize: FS + "px", overflow: "visible"},
  x: {domain: xDomain, axis: null},
  y: {domain: [0, 100], axis: null},
  marks: [
    Plot.ruleX(macdHist, {x: (d, i) => i, y1: () => macdToOsc(0), y2: d => macdToOsc(d), stroke: LIME, strokeWidth: 1, shapeRendering: CRISP}),
    Plot.ruleY([0], {y: d => macdToOsc(d), stroke: LIME, strokeWidth: 2, shapeRendering: CRISP}),
    Plot.ruleY(oscLevels, {stroke: PURPLE, strokeWidth: 1, strokeDasharray: "3,3", shapeRendering: CRISP}),
    Plot.line(macdSignal, {x: d => d[0], y: d => macdToOsc(d[1]), stroke: CYAN, strokeWidth: 1, shapeRendering: CRISP}),
    Plot.line(rsiLine, {x: d => d[0], y: d => d[1], stroke: YELLOW, strokeWidth: 2, shapeRendering: CRISP}),
    Plot.line(stochSignal, {x: d => d[0], y: d => d[1], stroke: LIME, strokeWidth: 1, strokeDasharray: "3,3", shapeRendering: CRISP}),
    Plot.line(stochMain, {x: d => d[0], y: d => d[1], stroke: LIME, strokeWidth: 2, shapeRendering: CRISP}),
    Plot.frame({stroke: "#fff", strokeWidth: 1, shapeRendering: CRISP}),
    Plot.axisX({ticks: tickBars, tickFormat: d => tickLabels[tickBars.indexOf(d)], tickSize: 3, tickPadding: 4, textAnchor: "start", dx: 2, stroke: "#fff", fill: "#fff", label: null, fontSize: FS}),
    Plot.rect([0], {x1: () => 341, x2: () => 342.75, y1: d => macdToOsc(d) - 2.8, y2: d => macdToOsc(d) + 2.8, fill: LIME}),
    Plot.text(oscLevels, {frameAnchor: "right", y: d => d, text: d => String(d), dx: 3, textAnchor: "start", fill: "#fff", fontSize: FS}),
    Plot.text([macdRange[1]], {frameAnchor: "right", y: d => macdToOsc(d), text: d => d.toFixed(3), dx: 3, dy: 6, textAnchor: "start", fill: "#fff", fontSize: FS}),
    Plot.text([0], {frameAnchor: "right", y: d => macdToOsc(d), text: () => "0.00", dx: 3, textAnchor: "start", fill: "#fff", fontSize: FS}),
    Plot.text([macdRange[0]], {frameAnchor: "right", y: d => macdToOsc(d), text: d => d.toFixed(3), dx: 3, dy: -7.5, textAnchor: "start", fill: "#fff", fontSize: FS}),
    Plot.text(["MACD(13,55,13) 0.020 -0.117  RSI(14) 53.1670  Stoch(34,3,3) 66.3043 74.6487"], {frameAnchor: "top-left", dx: 4, dy: 8, lineAnchor: "middle", textAnchor: "start", fill: "#fff", fontSize: FS}),
    Plot.text(["520FX.com"], {frameAnchor: "bottom-left", dx: 4, dy: 10, lineAnchor: "middle", textAnchor: "start", fill: "#fff", fontSize: 16, fontWeight: "bold", stroke: "#000", strokeWidth: 2, paintOrder: "stroke"})
  ]
});
document.getElementById("chart").append(main, lower);
</script>
</body>
</html>
